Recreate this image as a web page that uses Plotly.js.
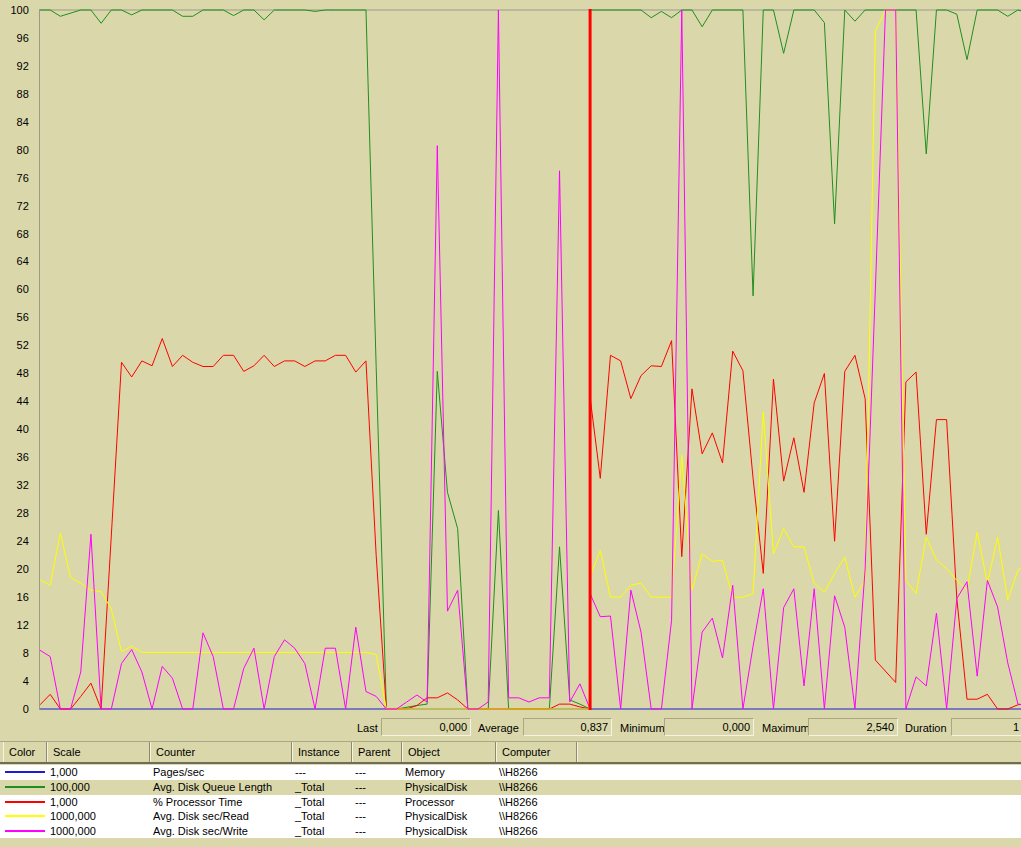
<!DOCTYPE html>
<html>
<head>
<meta charset="utf-8">
<script src="https://cdn.plot.ly/plotly-3.0.1.min.js"></script>
<style>
  body {
    margin: 0;
    width: 1021px;
    height: 847px;
    overflow: hidden;
    position: relative;
    background: #dad8aa;
    font-family: "Liberation Sans", Arial, sans-serif;
    font-size: 11px;
    color: #000;
  }
  #graph { position: absolute; left: 0; top: 0; width: 1021px; height: 716px; }
  .lbl { position: absolute; top: 721px; line-height: 14px; }
  .box {
    position: absolute; top: 718px; height: 18px;
    border: 1px solid #a9a786; border-right-color: #f4f3e4; border-bottom-color: #f4f3e4;
    background: #dad8aa; box-sizing: border-box;
    text-align: right; line-height: 17px; padding-right: 3px;
  }
  #sep { position: absolute; left: 0; top: 741px; width: 1021px; height: 1px; background: #a9a786; }
  .hd {
    position: absolute; top: 742px; height: 20px; box-sizing: border-box;
    border-right: 1px solid #8d8b6c; border-left: 1px solid #f4f3e4;
    line-height: 20px; padding-left: 5px;
  }
  #hdline { position: absolute; left: 0; top: 762px; width: 1021px; height: 2px; background: #6f6d55; }
  .row { position: absolute; left: 0; width: 1021px; background: #fff; }
  .row.sel { background: #dad8aa; }
  .cell { position: absolute; top: 0; line-height: 15px; white-space: nowrap; }
  .swatch { position: absolute; left: 5px; top: 6px; width: 40px; height: 2px; }
</style>
</head>
<body>
<div id="graph"></div>
<div id="stats"></div>
<div id="sep"></div>
<div id="table"></div>

<script>
//------------INPUT DATA------------

// sample where the time bar stands; the line breaks there
const BAR_SAMPLE = 54;

// samples 0..54 (new run, left of bar), then 54..97 (old run, right of bar)
// Pages/sec
const pagesSec = [
  0, 0, 0, 0, 0, 0, 0, 0, 0, 0, 0, 0, 0, 0, 0, 0, 0, 0, 0, 0,
  0, 0, 0, 0, 0, 0, 0, 0, 0, 0, 0, 0, 0, 0, 0, 0, 0, 0, 0, 0,
  0, 0, 0, 0, 0, 0, 0, 0, 0, 0, 0, 0, 0, 0, 0,
  0, 0, 0, 0, 0, 0, 0, 0, 0, 0, 0, 0, 0, 0, 0, 0, 0, 0, 0, 0,
  0, 0, 0, 0, 0, 0, 0, 0, 0, 0, 0, 0, 0, 0, 0, 0, 0, 0, 0, 0,
  0, 0, 0, 0,
];

// Avg. Disk Queue Length
const diskQueue = [
  100, 100, 99.1, 99.5, 100, 100, 98.1, 100, 100, 99.3,
  100, 100, 100, 100, 99.1, 99.1, 100, 100, 100, 99.2,
  100, 100, 98.6, 100, 100, 100, 100, 99.8, 100, 100,
  100, 100, 100, 49, 0, 0, 0.3, 0.5, 0.7, 48.3,
  31, 25.8, 0, 0, 0, 28.4, 0, 0, 0, 0,
  0, 23.2, 1.3, 0.7, 0,
  100, 100, 100, 100, 100, 100, 98.9, 99.8, 98.9, 100,
  100, 97.6, 100, 100, 100, 100, 59.1, 100, 100, 93.8,
  100, 100, 100, 98.2, 69.4, 100, 98.4, 100, 100, 100,
  100, 100, 100, 79.4, 100, 100, 99.4, 92.9, 100, 100,
  100, 99.1, 100, 99.6,
];

// % Processor Time
const cpuTime = [
  0.6, 2.1, 0, 0, 1.8, 3.7, 0, 25, 49.6, 47.5,
  49.8, 49.1, 53, 49, 50.6, 49.6, 49, 49, 50.6, 50.6,
  48.3, 49.1, 50.6, 49, 49.8, 49.8, 49, 49.8, 49.8, 50.6,
  50.6, 48.2, 49.8, 22, 0, 0, 0, 0.5, 1.6, 1.6,
  2.3, 1.3, 0, 0, 0, 0, 0, 0, 0, 0,
  0, 0.7, 0.7, 0.3, 0,
  44.6, 33, 50.6, 49.8, 44.4, 47.7, 49.1, 49, 52.7, 21.8,
  45.8, 36.5, 39.5, 35.2, 51.2, 48.4, 33, 19.4, 47.2, 32.6,
  38.8, 31, 43.8, 48, 24, 48.3, 50.6, 44.4, 7, 5.4,
  3.8, 46.8, 48.2, 25, 41.4, 41.4, 15.8, 1.4, 1.4, 2.1,
  0, 0, 0.6, 0.8,
];

// Avg. Disk sec/Read
const diskRead = [
  18.5, 17.7, 25.2, 18.8, 18, 17, 16.8, 14.3, 8.2, 9,
  8.1, 8.1, 8.1, 8.1, 8.1, 8.1, 8.1, 8.1, 8.1, 8.2,
  8.2, 8.1, 8.1, 8.1, 8.1, 8.1, 8.1, 8.1, 8.1, 8.1,
  8.1, 8.1, 8.1, 7.8, 0, 0, 0, 0, 0, 0,
  0, 0, 0, 0, 0, 0, 0, 0, 0, 0,
  0, 0, 0, 0, 0,
  18.9, 22.7, 16, 16, 17.7, 18, 16, 16, 16, 36.3,
  17, 22.2, 21.1, 21.3, 16, 16, 16.5, 42.5, 22.2, 25.8,
  23.2, 23.2, 18, 16.7, 19.4, 21.7, 16, 18.4, 97, 100,
  100, 18.4, 16.5, 24.6, 21.3, 20.1, 18.4, 17, 25.3, 18,
  24.6, 15.6, 19.9, 20.5,
];

// Avg. Disk sec/Write
const diskWrite = [
  8.4, 7.5, 0, 0, 5.3, 25, 0, 0, 6.5, 8.5,
  5.3, 0, 6.1, 4.4, 0, 0, 10.9, 7.5, 0, 0,
  5.8, 8.7, 0, 7.5, 9.9, 8.7, 6.5, 0, 8.7, 8.7,
  0, 11.7, 2.5, 1.8, 0, 0, 1, 2, 1, 80.6,
  14, 17, 0, 0, 1, 100, 1.6, 1.6, 1, 1.6,
  1.6, 77, 1, 3.6, 0,
  16.5, 13.2, 13.3, 0, 17, 11, 0, 0, 12.7, 100,
  0, 11, 13, 7.3, 17.7, 0, 9, 17.2, 0, 14.5,
  17.2, 3.3, 17.2, 0, 16.2, 11.7, 0, 20, 60, 100,
  100, 0, 4.6, 3.3, 13.7, 0, 15.8, 18.2, 4.7, 18.4,
  14.6, 6.6, 0.7, 0.5,
];

const yTicks = [0, 4, 8, 12, 16, 20, 24, 28, 32, 36, 40, 44, 48, 52, 56, 60, 64, 68, 72, 76, 80, 84, 88, 92, 96, 100];

// legend table
const headers = ["Color", "Scale", "Counter", "Instance", "Parent", "Object", "Computer"];
const scales = ["1,000", "100,000", "1,000", "1000,000", "1000,000"];
const counters = ["Pages/sec", "Avg. Disk Queue Length", "% Processor Time", "Avg. Disk sec/Read", "Avg. Disk sec/Write"];
const instances = ["---", "_Total", "_Total", "_Total", "_Total"];
const parents = ["---", "---", "---", "---", "---"];
const objects = ["Memory", "PhysicalDisk", "Processor", "PhysicalDisk", "PhysicalDisk"];
const computers = ["\\\\H8266", "\\\\H8266", "\\\\H8266", "\\\\H8266", "\\\\H8266"];

// value bar (duration is cut by the window edge in the original)
const statLabels = ["Last", "Average", "Minimum", "Maximum", "Duration"];
const statValues = ["0,000", "0,837", "0,000", "2,540", "1"];
//------------END INPUT DATA------------

// styles
const COLORS = ["#1c1cd0", "#1f8f1f", "#ff0000", "#ffff00", "#ff00ff"];
const STAT_LABEL_X = [357, 478, 620, 762, 905];
const STAT_BOX = [[381, 471], [523, 612], [664, 754], [808, 898], [951, 1023]];
const COL_EDGES = [3, 47, 150, 292, 352, 402, 496, 577];
const ROW_TOPS = [765, 780, 795, 809, 824, 838];

// x of each sample: the bar sample appears twice (end of new run, start of old)
function sampleIndex() {
  const xs = [];
  for (let i = 0; i <= BAR_SAMPLE; i++) xs.push(i);
  for (let i = BAR_SAMPLE; xs.length < pagesSec.length; i++) xs.push(i);
  return xs;
}

function drawGraph() {
  const xs = sampleIndex();
  const series = [pagesSec, diskQueue, cpuTime, diskRead, diskWrite];
  const data = series.map((ys, k) => ({
    x: xs,
    y: ys,
    type: "scatter",
    mode: "lines",
    hoverinfo: "none",
    line: { color: COLORS[k], width: 1 },
  }));

  const layout = {
    width: 1021,
    height: 716,
    margin: { t: 9, b: 6, l: 40, r: 0 },
    paper_bgcolor: "#dad8aa",
    plot_bgcolor: "#dad8aa",
    showlegend: false,
    font: { family: "Liberation Sans, Arial, sans-serif", size: 11, color: "#000" },
    xaxis: { range: [0, 96.3], visible: false, fixedrange: true },
    yaxis: {
      range: [-0.143, 100.143],
      tickvals: yTicks,
      ticktext: yTicks.map(String),
      ticks: "",
      ticklabelstandoff: 8,
      showgrid: false,
      zeroline: false,
      showline: true,
      linecolor: "#9a9a8c",
      linewidth: 1,
      fixedrange: true,
    },
    shapes: [
      // top frame line
      {
        type: "line", xref: "paper", x0: 0, x1: 1, yref: "y", y0: 100, y1: 100,
        line: { color: "#9a9a8c", width: 1 }, layer: "below",
      },
      // time bar
      {
        type: "line", xref: "x", x0: BAR_SAMPLE, x1: BAR_SAMPLE, yref: "paper", y0: 0, y1: 1,
        line: { color: "#ff0000", width: 3 }, layer: "above",
      },
    ],
  };

  Plotly.newPlot("graph", data, layout, { staticPlot: true });
}

function drawStats() {
  let html = "";
  statLabels.forEach((lab, k) => {
    html += `<div class="lbl" style="left:${STAT_LABEL_X[k]}px">${lab}</div>`;
    const b = STAT_BOX[k];
    html += `<div class="box" style="left:${b[0]}px;width:${b[1] - b[0]}px">${statValues[k]}</div>`;
  });
  document.getElementById("stats").innerHTML = html;
}

function drawTable() {
  let html = "";
  headers.forEach((h, k) => {
    html += `<div class="hd" style="left:${COL_EDGES[k]}px;width:${COL_EDGES[k + 1] - COL_EDGES[k]}px">${h}</div>`;
  });
  html += `<div class="hd" style="left:${COL_EDGES[COL_EDGES.length - 1]}px;width:500px;border-right:none"></div>`;
  html += `<div id="hdline"></div>`;

  counters.forEach((c, r) => {
    const cells = [scales[r], c, instances[r], parents[r], objects[r], computers[r]];
    let row = `<div class="swatch" style="background:${COLORS[r]}"></div>`;
    cells.forEach((t, k) => {
      row += `<div class="cell" style="left:${COL_EDGES[k + 1] + 3}px">${t}</div>`;
    });
    const cls = r === 1 ? "row sel" : "row";
    const h = ROW_TOPS[r + 1] - ROW_TOPS[r];
    html += `<div class="${cls}" style="top:${ROW_TOPS[r]}px;height:${h}px">${row}</div>`;
  });
  document.getElementById("table").innerHTML = html;
}

drawGraph();
drawStats();
drawTable();
</script>
</body>
</html>
